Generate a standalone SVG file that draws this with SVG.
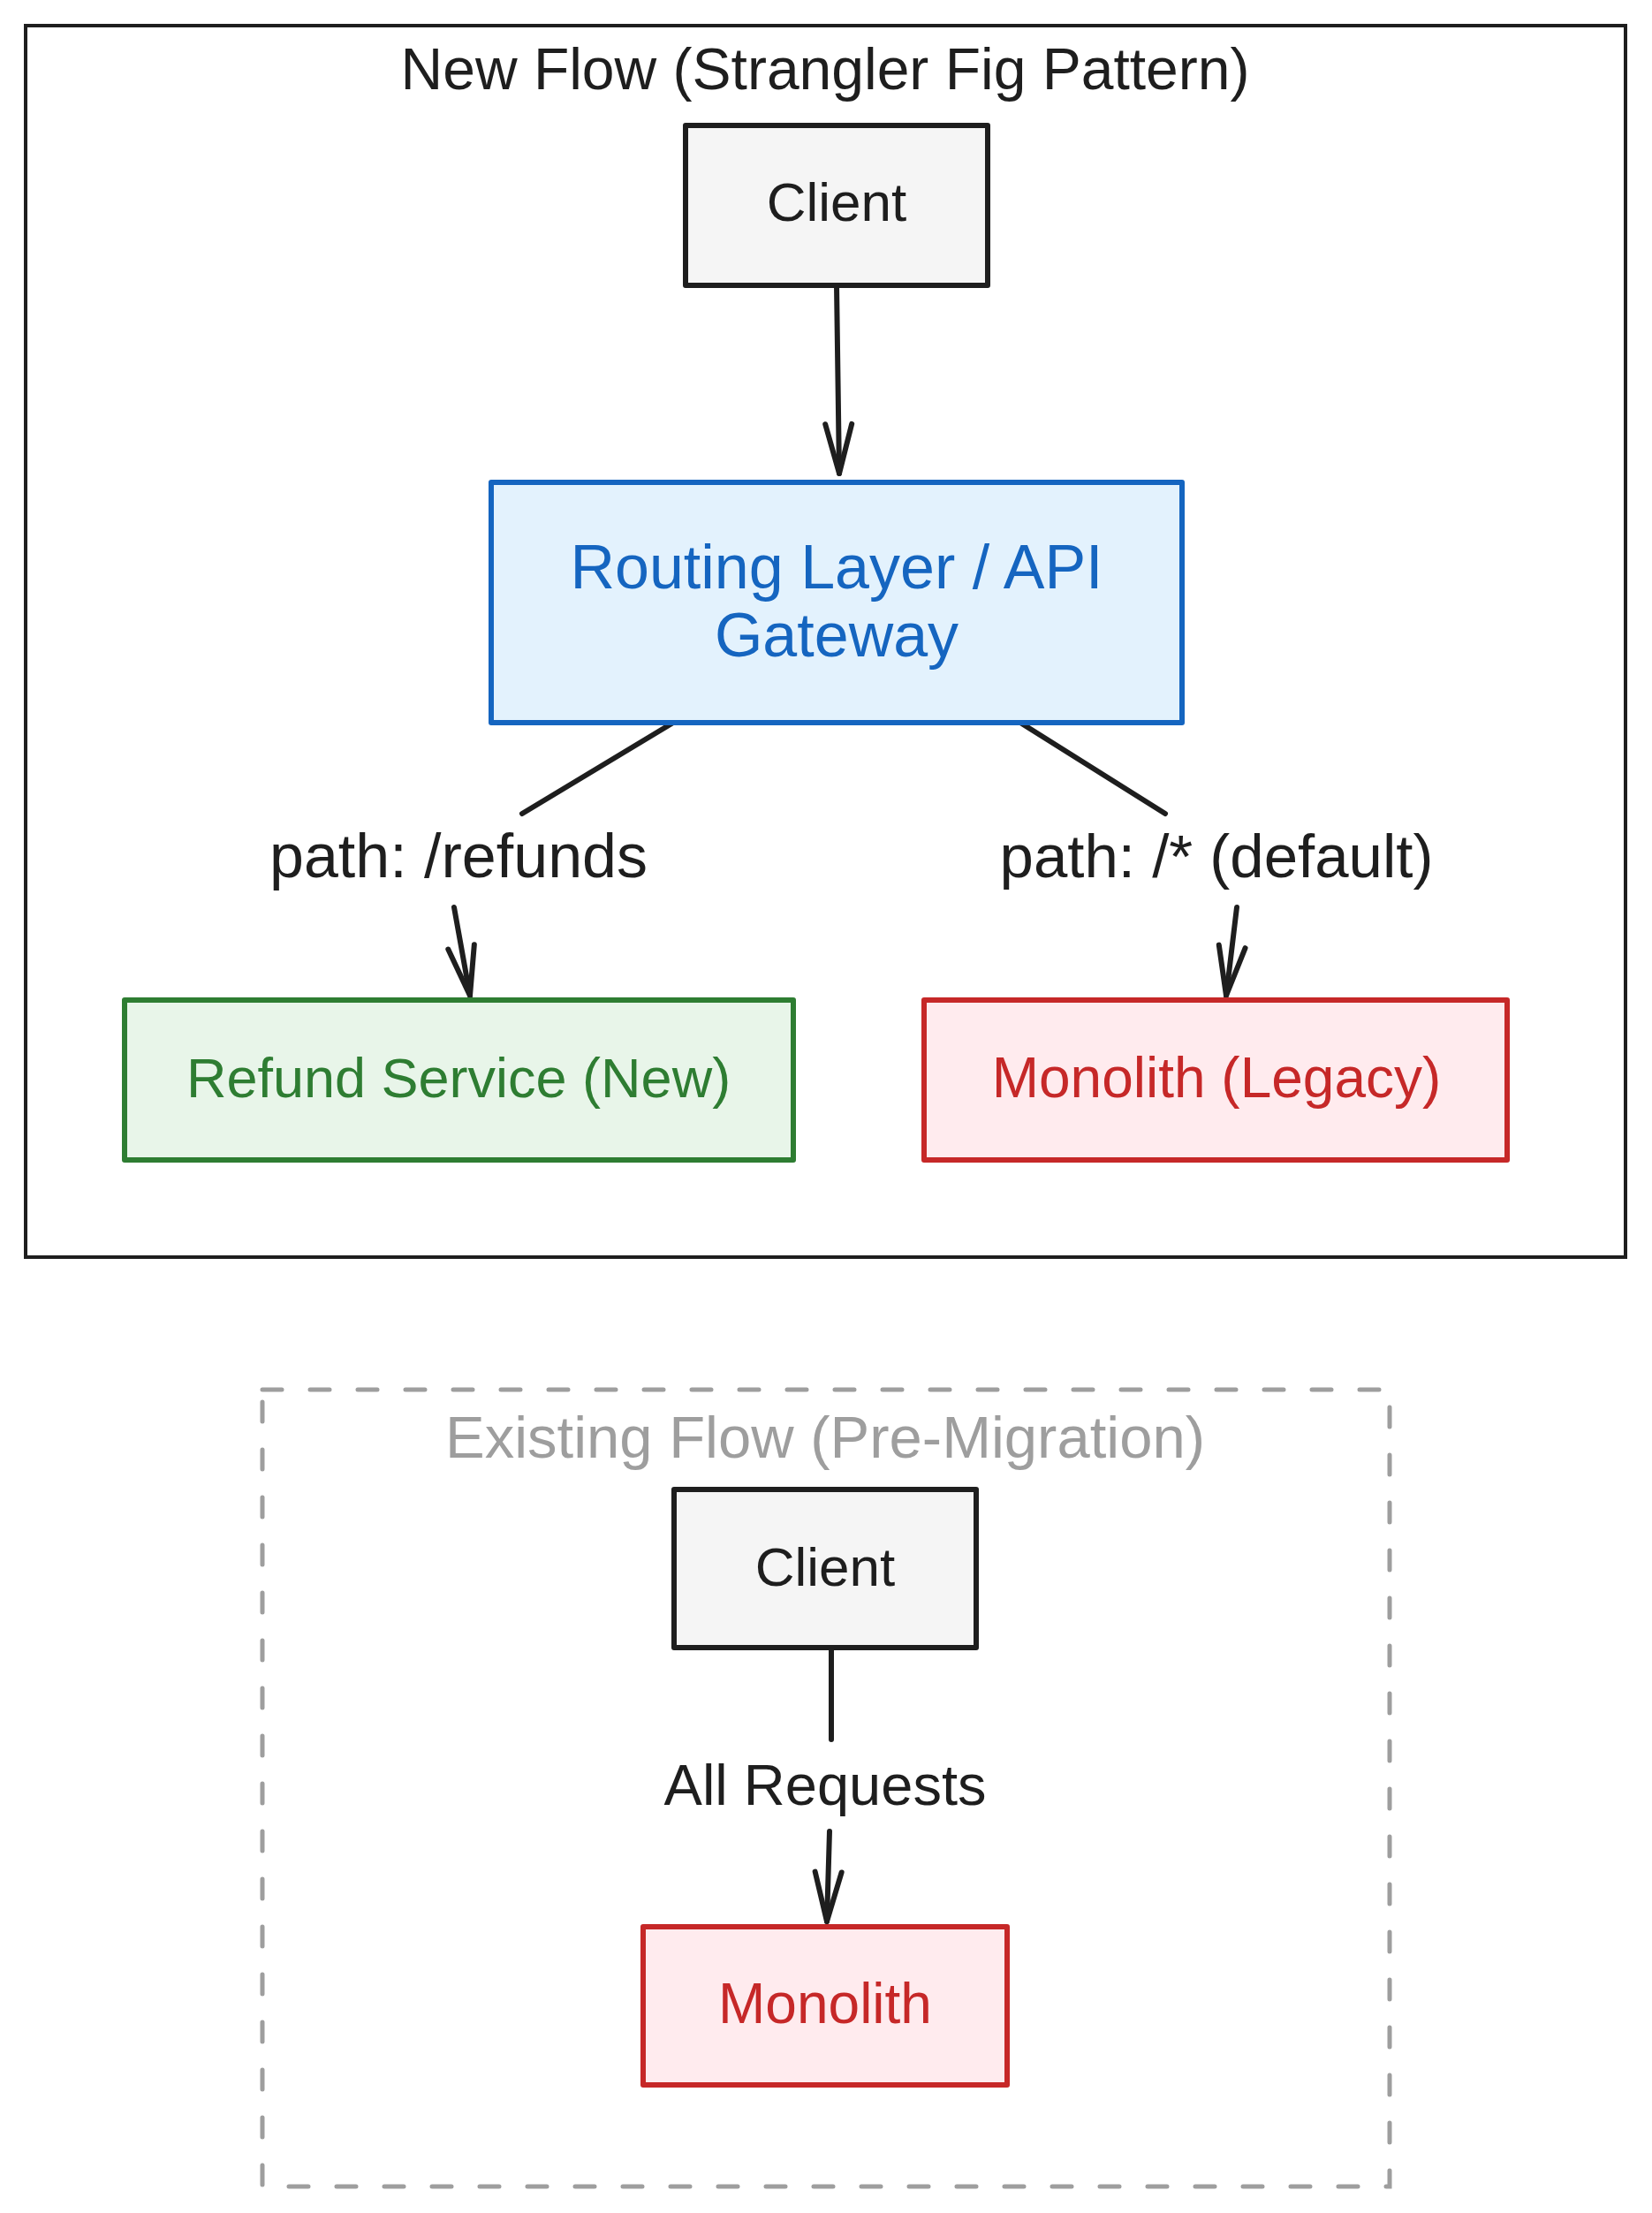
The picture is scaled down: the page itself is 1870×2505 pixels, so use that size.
<svg xmlns="http://www.w3.org/2000/svg" width="1870" height="2505" viewBox="0 0 1870 2505">
<style>
text{font-family:"Liberation Sans",Arial,sans-serif;text-anchor:middle;dominant-baseline:central;font-size:62px;fill:#1e1e1e}
.box{stroke-width:6;stroke-linejoin:round}
.grey{fill:#f5f5f5;stroke:#1e1e1e}
.blue{fill:#e3f2fd;stroke:#1565c0}
.green{fill:#e8f5e9;stroke:#2e7d32}
.red{fill:#ffebee;stroke:#c62828}
.conn{fill:none;stroke:#1e1e1e;stroke-width:6;stroke-linecap:round}
</style>
<defs>
<marker id="arr" markerUnits="userSpaceOnUse" markerWidth="80" markerHeight="60" viewBox="-70 -30 80 60" refX="0" refY="0" orient="auto" overflow="visible">
<path d="M -56 -15 L 0 0 L -56 15" fill="none" stroke="#1e1e1e" stroke-width="6" stroke-linecap="round" stroke-linejoin="round"/>
</marker>
</defs>
<rect width="1870" height="2505" fill="#ffffff"/>
<g id="group-new-flow">
<rect x="29" y="29" width="1811" height="1394" fill="#ffffff" stroke="#1e1e1e" stroke-width="4"/>
<text x="934" y="78" style="font-size:66px">New Flow (Strangler Fig Pattern)</text>
</g>
<g id="group-existing-flow">
<rect x="297" y="1573" width="1276" height="902" fill="none" stroke="#9e9e9e" stroke-width="5" stroke-dasharray="22 32" stroke-linecap="round"/>
<text x="934" y="1626" style="fill:#9e9e9e;font-size:67px">Existing Flow (Pre-Migration)</text>
</g>
<g id="connectors">
<line class="conn" x1="947" y1="323" x2="950" y2="536" marker-end="url(#arr)"/>
<line class="conn" x1="762" y1="818" x2="591" y2="921"/>
<line class="conn" x1="514" y1="1027" x2="532" y2="1127" marker-end="url(#arr)"/>
<line class="conn" x1="1155" y1="818" x2="1319" y2="921"/>
<line class="conn" x1="1400" y1="1027" x2="1388" y2="1127" marker-end="url(#arr)"/>
<line class="conn" x1="941" y1="1865" x2="941" y2="1969"/>
<line class="conn" x1="939" y1="2073" x2="936" y2="2175" marker-end="url(#arr)"/>
<text x="519" y="969" style="font-size:70px">path: /refunds</text>
<text x="1377" y="969" style="font-size:69px">path: /* (default)</text>
<text x="934" y="2020" style="font-size:65px">All Requests</text>
</g>
<g id="node-client-new">
<rect class="box grey" x="776" y="142" width="342" height="181"/>
<text x="947" y="228">Client</text>
</g>
<g id="node-routing">
<rect class="box blue" x="556" y="546" width="782" height="272"/>
<text x="947" y="642" style="fill:#1565c0;font-size:70px">Routing Layer / API</text>
<text x="947" y="719" style="fill:#1565c0;font-size:70px">Gateway</text>
</g>
<g id="node-refund">
<rect class="box green" x="141" y="1132" width="757" height="181"/>
<text x="519" y="1220" style="fill:#2e7d32;font-size:63px">Refund Service (New)</text>
</g>
<g id="node-monolith-legacy">
<rect class="box red" x="1046" y="1132" width="660" height="181"/>
<text x="1377" y="1220" style="fill:#c62828;font-size:64px">Monolith (Legacy)</text>
</g>
<g id="node-client-old">
<rect class="box grey" x="763" y="1686" width="342" height="179"/>
<text x="934" y="1773">Client</text>
</g>
<g id="node-monolith">
<rect class="box red" x="728" y="2181" width="412" height="179"/>
<text x="934" y="2268" style="fill:#c62828;font-size:64px">Monolith</text>
</g>
</svg>
